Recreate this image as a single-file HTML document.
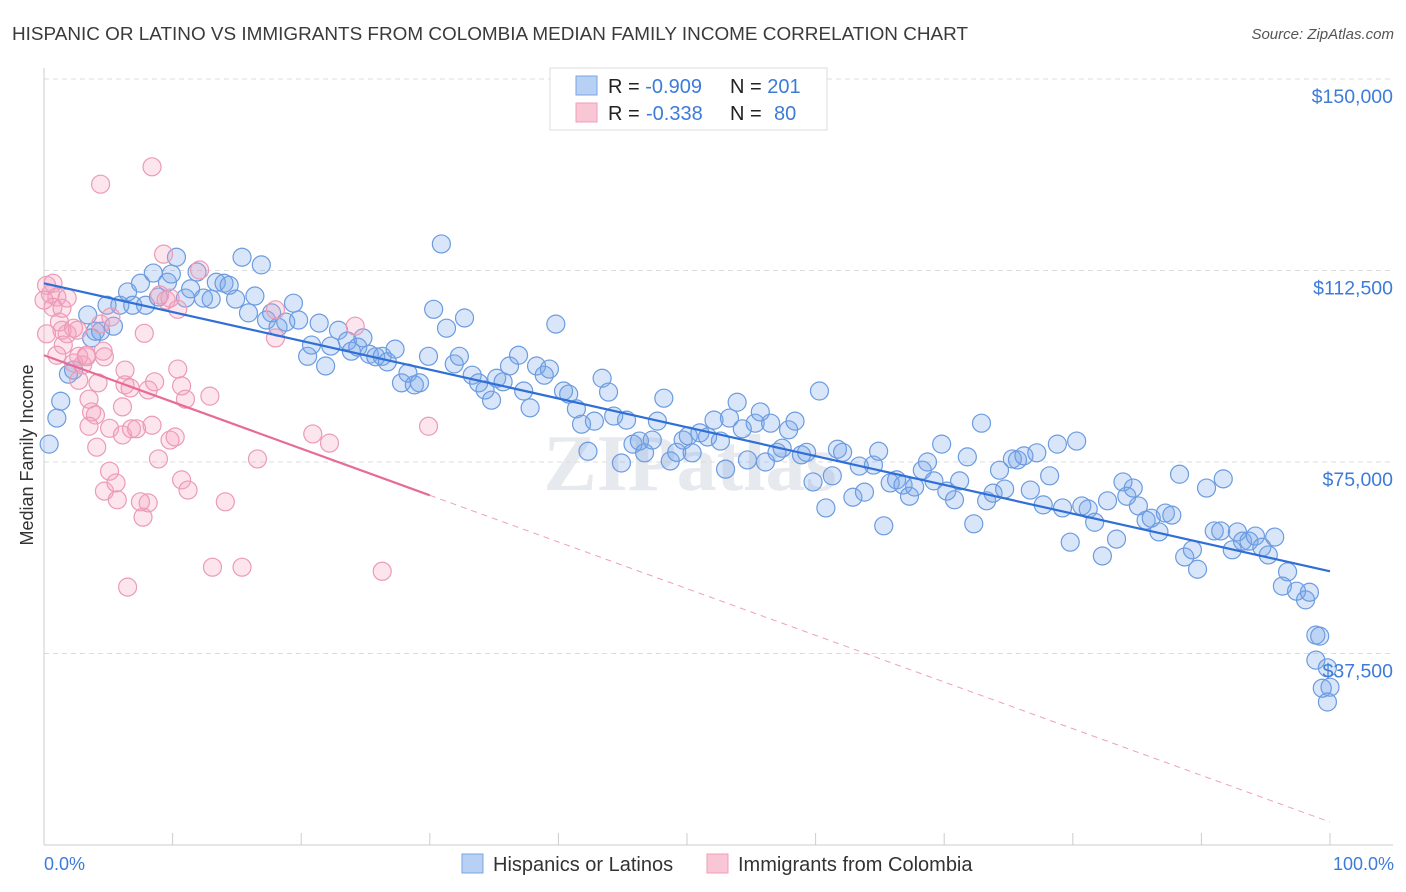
<!DOCTYPE html>
<html><head><meta charset="utf-8"><style>
body{margin:0;background:#fff;font-family:"Liberation Sans",sans-serif;}
svg{display:block}
</style></head><body>
<svg id="chart" width="1406" height="892" viewBox="0 0 1406 892">
<text x="12" y="40" font-size="18.5" fill="#3a3a3a" textLength="956" lengthAdjust="spacingAndGlyphs">HISPANIC OR LATINO VS IMMIGRANTS FROM COLOMBIA MEDIAN FAMILY INCOME CORRELATION CHART</text>
<text x="1394" y="39" font-size="15" font-style="italic" fill="#555" text-anchor="end">Source: ZipAtlas.com</text>
<text x="690" y="490" font-size="80" font-weight="bold" fill="#e6e9ee" text-anchor="middle" font-family="Liberation Serif, serif">ZIPatlas</text>
<g id="grid"></g>
<g id="axes"></g>
<g id="pts"></g>
<g id="lines"></g>
<text transform="translate(33,455) rotate(-90)" font-size="18" fill="#333" text-anchor="middle">Median Family Income</text>
<text x="44" y="870" font-size="18" fill="#3d7bd9">0.0%</text>
<text x="1394" y="870" font-size="18" fill="#3d7bd9" text-anchor="end">100.0%</text>
<g>
<rect x="550" y="68" width="277" height="62" fill="#fff" stroke="#ddd"/>
<rect x="576" y="76" width="21" height="19" fill="#b8d0f3" stroke="#7aa6e6"/>
<rect x="576" y="103" width="21" height="19" fill="#f9c6d6" stroke="#ee9db8"/>
<text x="608" y="93" font-size="20" fill="#222">R = <tspan fill="#3d7bd9">-0.909</tspan><tspan x="730">N = </tspan><tspan fill="#3d7bd9">201</tspan></text>
<text x="608" y="120" font-size="20" fill="#222">R = <tspan x="646" fill="#3d7bd9">-0.338</tspan><tspan x="730">N = </tspan><tspan x="774" fill="#3d7bd9">80</tspan></text>
</g>
<g>
<rect x="462" y="854" width="21" height="19" fill="#b8d0f3" stroke="#7aa6e6"/>
<text x="493" y="871" font-size="20" fill="#333">Hispanics or Latinos</text>
<rect x="707" y="854" width="21" height="19" fill="#f9c6d6" stroke="#ee9db8"/>
<text x="738" y="871" font-size="20" fill="#333">Immigrants from Colombia</text>
</g>
</svg>
<script>
const yTicks=[37.5,75,112.5,150];
const yTickLabels=["$37,500","$75,000","$112,500","$150,000"];
const xTicks=[0,10,20,30,40,50,60,70,80,90,100];
const blueX=[0.4,1.0,1.3,1.9,2.3,3.4,3.7,4.0,4.4,4.9,5.4,5.9,6.5,6.9,7.5,7.9,8.5,8.9,9.6,9.9,10.3,11.0,11.4,11.9,12.4,13.0,13.4,14.0,14.4,14.9,15.4,15.9,16.4,16.9,17.3,17.7,18.2,18.8,19.4,19.8,20.5,20.8,21.4,21.9,22.3,22.9,23.6,23.9,24.4,24.8,25.3,25.8,26.3,26.7,27.3,27.8,28.3,28.8,29.2,29.9,30.3,30.9,31.3,31.9,32.3,32.7,33.3,33.8,34.3,34.8,35.2,35.7,36.2,36.9,37.3,37.8,38.3,38.9,39.3,39.8,40.4,40.8,41.4,41.8,42.3,42.8,43.4,43.9,44.3,44.9,45.3,45.8,46.3,46.7,47.3,47.7,48.2,48.7,49.2,49.7,50.1,50.4,51.0,51.6,52.1,52.6,53.0,53.3,53.9,54.3,54.7,55.3,55.7,56.1,56.5,57.0,57.4,57.9,58.4,58.9,59.3,59.8,60.3,60.8,61.3,61.7,62.1,62.9,63.4,63.8,64.5,64.9,65.3,65.8,66.3,66.8,67.3,67.7,68.3,68.7,69.2,69.8,70.2,70.8,71.2,71.8,72.3,72.9,73.3,73.8,74.3,74.7,75.3,75.7,76.2,76.7,77.2,77.7,78.2,78.8,79.2,79.8,80.3,80.7,81.2,81.7,82.3,82.7,83.4,83.9,84.2,84.7,85.1,85.7,86.1,86.7,87.2,87.7,88.3,88.7,89.3,89.7,90.4,91.0,91.5,91.7,92.4,92.8,93.2,93.7,94.2,94.7,95.2,95.7,96.3,96.7,97.4,98.1,98.4,98.9,99.2,98.9,99.4,100,99.8,99.8];
const blueY=[78.5,83.6,86.9,92.2,93.0,103.8,99.3,100.6,100.6,105.7,101.6,105.7,108.3,105.7,110.0,105.7,112.0,107.3,110.2,111.8,115.1,107.1,108.9,112.2,107.1,106.9,110.2,110.0,109.6,106.9,115.1,104.2,107.5,113.6,102.8,104.2,101.4,102.4,106.1,102.8,95.7,97.9,102.2,93.8,97.7,100.8,98.7,96.7,97.5,99.3,96.1,95.6,95.7,94.6,97.1,90.5,92.4,90.1,90.5,95.7,104.9,117.7,101.2,94.2,95.7,103.2,92.0,90.5,89.1,87.1,91.4,90.7,93.8,95.9,88.9,85.6,93.8,92.0,93.2,102.0,88.9,88.3,85.4,82.4,77.1,83.0,91.4,88.7,84.0,74.8,83.2,78.5,79.1,76.8,79.3,83.0,87.5,75.2,76.9,79.3,80.1,76.8,80.7,79.9,83.2,79.1,73.6,83.6,86.7,81.5,75.4,82.6,84.8,75.0,82.6,76.9,77.7,81.3,83.0,76.4,76.9,71.1,88.9,66.0,72.3,77.5,76.9,68.1,74.2,69.1,74.4,77.1,62.5,70.9,71.5,70.5,68.3,70.1,73.4,75.0,71.3,78.5,69.3,67.6,71.3,76.0,62.9,82.6,67.4,68.9,73.4,69.7,75.6,75.4,76.2,69.5,76.8,66.6,72.3,78.5,66.0,59.3,79.1,66.4,65.8,63.2,56.6,67.4,59.9,71.1,68.3,69.9,66.4,63.6,64.0,61.3,65.0,64.6,72.6,56.4,57.8,54.0,69.9,61.5,61.5,71.7,57.8,61.3,59.5,59.5,60.5,58.3,56.8,60.3,50.7,53.5,49.7,48.0,49.5,41.1,40.9,36.2,30.7,30.9,28.0,34.7];
const pinkX=[0.2,0.5,0.7,1.0,0.7,1.4,1.8,1.2,1.4,1.8,2.3,2.6,2.7,1.5,1.0,2.3,3.0,3.3,2.7,4.2,3.5,3.7,4.0,3.5,4.6,4.4,4.7,5.2,5.1,4.1,5.1,4.7,5.6,5.7,6.1,6.3,6.3,6.7,6.8,7.2,6.1,7.8,8.1,8.4,8.6,8.9,8.1,7.7,7.5,9.3,9.0,9.5,9.8,10.4,10.4,10.7,11.0,9.8,10.2,10.7,11.2,12.1,12.9,14.1,13.1,15.4,16.6,18.0,18.0,20.9,22.2,24.2,26.3,29.9,4.4,8.4,6.5,0.2,0,3.3];
const pinkY=[109.6,107.9,110.0,107.3,105.3,105.1,107.1,102.4,100.8,100.1,101.2,100.8,95.7,97.9,95.9,94.4,94.0,95.6,91.0,90.5,87.3,84.8,84.2,82.0,96.7,102.0,95.6,103.4,81.6,77.9,73.2,69.3,70.9,67.6,80.3,90.1,93.0,89.5,81.5,81.5,85.8,100.2,89.1,82.2,90.7,75.6,67.0,64.2,67.2,115.7,107.7,106.7,107.1,104.9,93.2,89.9,87.3,79.3,79.9,71.5,69.5,112.6,87.9,67.2,54.4,54.4,75.6,104.8,99.3,80.5,78.7,101.6,53.6,82.0,129.4,132.8,50.5,100.1,106.7,95.9];
const blueFit=[110.0,53.6];
const pinkFit=[95.9,4.5];
const pinkSolidEnd=30;

const NS="http://www.w3.org/2000/svg";
const X0=44,X1=1330,Y0=845,PXK=191.5/37.5;
const sx=v=>X0+(X1-X0)*v/100;
const sy=v=>Y0-v*PXK;
function mk(tag,attrs,parent){const e=document.createElementNS(NS,tag);for(const k in attrs)e.setAttribute(k,attrs[k]);parent.appendChild(e);return e;}
const grid=document.getElementById('grid'),axes=document.getElementById('axes'),pts=document.getElementById('pts'),lines=document.getElementById('lines'),svg=document.getElementById('chart');
yTicks.forEach((t,i)=>{
  const l=mk('line',{x1:X0,x2:1393,y1:sy(t),y2:sy(t),stroke:'#dcdcdc','stroke-dasharray':'5,4'},grid);
  
  
  const tx=mk('text',{x:1393,y:sy(t)+24,'font-size':19.5,fill:'#3d7bd9','text-anchor':'end'},svg);
  tx.textContent=yTickLabels[i];
  
  
});
const ya=mk('line',{x1:X0,x2:X0,y1:68,y2:Y0,stroke:'#ccc'},axes);


const xa=mk('line',{x1:X0,x2:1393,y1:Y0,y2:Y0,stroke:'#ccc'},axes);


xTicks.forEach(t=>{
  const l=mk('line',{x1:sx(t),x2:sx(t),y1:Y0,y2:Y0-12,stroke:'#ccc'},axes);
  
  
});
blueX.forEach((x,i)=>{
  const c=mk('circle',{cx:sx(x),cy:sy(blueY[i]),r:9,fill:'rgba(120,165,235,0.28)',stroke:'#6b9be0','stroke-width':1.2},pts);
  
  
});
pinkX.forEach((x,i)=>{
  const c=mk('circle',{cx:sx(x),cy:sy(pinkY[i]),r:9,fill:'rgba(245,160,190,0.28)',stroke:'#ec9ab6','stroke-width':1.2},pts);
  
  
});
const bl=mk('line',{x1:sx(0),y1:sy(blueFit[0]),x2:sx(100),y2:sy(blueFit[1]),stroke:'#2f6fd6','stroke-width':2.2},lines);


const pAt=x=>pinkFit[0]+(pinkFit[1]-pinkFit[0])*x/100;
const pl=mk('line',{x1:sx(0),y1:sy(pAt(0)),x2:sx(pinkSolidEnd),y2:sy(pAt(pinkSolidEnd)),stroke:'#e86b95','stroke-width':2.2},lines);


const pd=mk('line',{x1:sx(pinkSolidEnd),y1:sy(pAt(pinkSolidEnd)),x2:sx(100),y2:sy(pAt(100)),stroke:'#eea0b9','stroke-width':1,'stroke-dasharray':'6,5'},lines);


</script>
</body></html>
